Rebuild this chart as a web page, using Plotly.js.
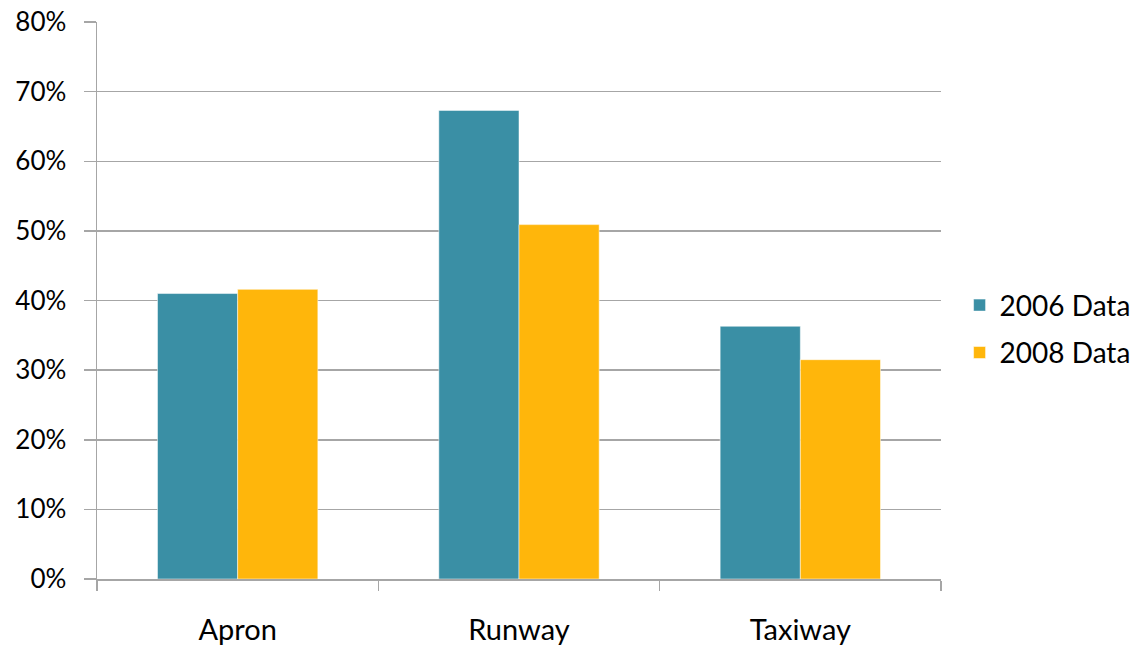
<!DOCTYPE html>
<html>
<head>
<meta charset="utf-8">
<script src="https://cdn.plot.ly/plotly-3.0.1.min.js"></script>
<style>
  html, body { margin: 0; padding: 0; background: #fff; }
  #chart { width: 1141px; height: 650px; }
</style>
</head>
<body>
<div id="chart"></div>
<script>
// Pavement areas compared across two survey years (percent)
const categories = ["Apron", "Runway", "Taxiway"];
const data2006 = [41.0, 67.3, 36.3];
const data2008 = [41.6, 50.9, 31.5];
const seriesNames = ["2006 Data", "2008 Data"];
const yTicks = [0, 10, 20, 30, 40, 50, 60, 70, 80];

const fontFamily = "Lato, 'Open Sans', sans-serif";
const gridGray = "#a6a6a6";

const traces = [
  {
    type: "bar",
    name: seriesNames[0],
    legendgroup: "g2006",
    x: categories,
    y: data2006,
    marker: { color: "#3a8fa5", line: { color: "rgba(255,255,255,0.5)", width: 1 } },
    hoverinfo: "x+y+name"
  },
  {
    type: "bar",
    name: seriesNames[1],
    legendgroup: "g2008",
    x: categories,
    y: data2008,
    marker: { color: "#ffb60b", line: { color: "rgba(255,255,255,0.5)", width: 1 } },
    hoverinfo: "x+y+name"
  }
];

const layout = {
  width: 1141,
  height: 650,
  paper_bgcolor: "#ffffff",
  plot_bgcolor: "#ffffff",
  margin: { l: 97, r: 200, t: 22, b: 71, autoexpand: false },
  barmode: "group",
  bargap: 0.43,
  bargroupgap: 0,
  font: { family: fontFamily, size: 26, color: "#000000" },
  xaxis: {
    type: "category",
    showline: true,
    linecolor: gridGray,
    linewidth: 1.5,
    ticks: "outside",
    tickson: "boundaries",
    ticklen: 10,
    tickcolor: gridGray,
    tickwidth: 1.5,
    showgrid: false,
    ticklabelstandoff: 25,
    tickfont: { family: fontFamily, size: 29, color: "#000" }
  },
  yaxis: {
    range: [0, 80],
    tickvals: yTicks,
    ticktext: yTicks.map(v => v + "%"),
    showline: true,
    linecolor: gridGray,
    linewidth: 1.5,
    ticks: "outside",
    ticklen: 12,
    tickcolor: gridGray,
    tickwidth: 1.5,
    showgrid: true,
    gridcolor: gridGray,
    gridwidth: 1.5,
    zeroline: false,
    ticklabelstandoff: 12,
    tickfont: { family: fontFamily, size: 26, color: "#000" }
  },
  legend: {
    x: 1.022,
    xanchor: "left",
    y: 0.449,
    yanchor: "middle",
    traceorder: "grouped",
    tracegroupgap: 8,
    font: { family: fontFamily, size: 28, color: "#000" },
    bgcolor: "rgba(0,0,0,0)",
    itemwidth: 30
  },
  showlegend: true
};

Plotly.newPlot("chart", traces, layout, { displayModeBar: false, staticPlot: true });
</script>
</body>
</html>
